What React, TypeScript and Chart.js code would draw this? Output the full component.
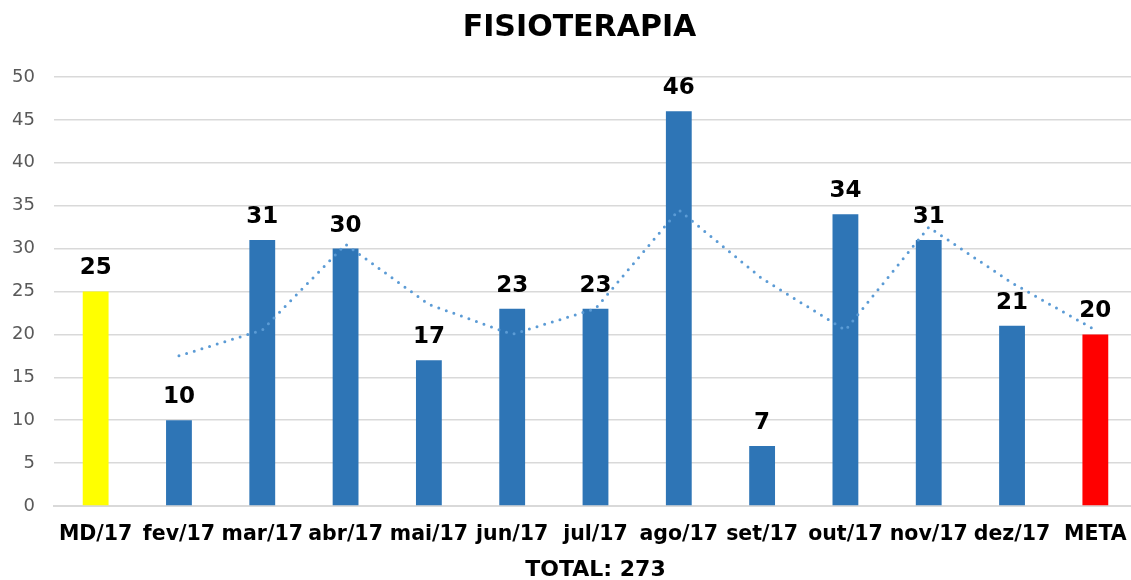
import React, { useEffect, useRef } from "react";
import { Chart, registerables } from "chart.js";

Chart.register(...registerables);

const categories = ["MD/17", "fev/17", "mar/17", "abr/17", "mai/17", "jun/17", "jul/17", "ago/17", "set/17", "out/17", "nov/17", "dez/17", "META"];
const values = [25, 10, 31, 30, 17, 23, 23, 46, 7, 34, 31, 21, 20];
const barColors = ["#FFFF00", "#2E75B6", "#2E75B6", "#2E75B6", "#2E75B6", "#2E75B6", "#2E75B6", "#2E75B6", "#2E75B6", "#2E75B6", "#2E75B6", "#2E75B6", "#FF0000"];
const trendValues = [null, 17.5, 20.5, 30.5, 23.5, 20, 23, 34.5, 26.5, 20.5, 32.5, 26, 20.5];
const yTicks = [0, 5, 10, 15, 20, 25, 30, 35, 40, 45, 50];
const chartTitle = "FISIOTERAPIA";
const xTitle = "TOTAL: 273";

const FONT = "'DejaVu Sans', Verdana, sans-serif";

const valueLabels = {
  id: "valueLabels",
  afterDatasetsDraw(chart: any) {
    const ctx = chart.ctx;
    const meta = chart.getDatasetMeta(0);
    ctx.save();
    ctx.font = `bold 23px ${FONT}`;
    ctx.fillStyle = "#000000";
    ctx.textAlign = "center";
    ctx.textBaseline = "middle";
    meta.data.forEach((bar: any, i: number) => {
      ctx.fillText(String(values[i]), bar.x, bar.y - 23);
    });
    ctx.restore();
  },
};

const titlePlugin = {
  id: "centeredTitle",
  afterDraw(chart: any) {
    const ctx = chart.ctx;
    ctx.save();
    ctx.font = `bold 30px ${FONT}`;
    ctx.fillStyle = "#000000";
    ctx.textAlign = "center";
    ctx.textBaseline = "middle";
    ctx.fillText(chartTitle, chart.width / 2, 28);
    ctx.restore();
  },
};

export default function App() {
  const ref = useRef<HTMLCanvasElement>(null);
  useEffect(() => {
    document.body.style.margin = "0";
    const chart = new Chart(ref.current!, {
      type: "bar",
      data: {
        labels: categories,
        datasets: [
          {
            type: "bar",
            data: values,
            backgroundColor: barColors,
            barPercentage: 0.62,
            categoryPercentage: 0.5,
            order: 2,
          } as any,
          {
            type: "line",
            data: trendValues,
            borderColor: "#5B9BD5",
            borderWidth: 3,
            borderDash: [0, 8],
            borderCapStyle: "round",
            pointRadius: 0,
            tension: 0,
            fill: false,
            order: 1,
          } as any,
        ],
      },
      options: {
        responsive: false,
        animation: false,
        layout: { padding: { left: 0, right: 22, top: 77, bottom: 0 } },
        plugins: {
          legend: { display: false },
          tooltip: { enabled: false },
          title: { display: false },
        },
        scales: {
          x: {
            grid: { display: false, drawTicks: false },
            border: { display: true, color: "#D9D9D9", width: 2 },
            afterFit: (axis: any) => {
              axis.height = 74;
            },
            ticks: {
              color: "#000000",
              font: { family: FONT, size: 20.5, weight: "bold" },
              padding: 16,
              maxRotation: 0,
              autoSkip: false,
            },
            title: {
              display: true,
              text: xTitle,
              color: "#000000",
              font: { family: FONT, size: 22, weight: "bold", lineHeight: 0.85 },
              padding: { top: 0, bottom: 0 },
            },
          },
          y: {
            min: 0,
            max: 50,
            afterBuildTicks: (axis: any) => {
              axis.ticks = yTicks.map((v) => ({ value: v }));
            },
            afterFit: (axis: any) => {
              axis.width = 54;
            },
            grid: { color: "#D9D9D9", lineWidth: 1.5, drawTicks: false },
            border: { display: false },
            ticks: {
              color: "#595959",
              font: { family: FONT, size: 18 },
              padding: 19,
            },
          },
        },
      },
      plugins: [valueLabels, titlePlugin],
    });
    return () => chart.destroy();
  }, []);
  return (
    <div style={{ width: 1131, height: 580, overflow: "hidden" }}>
      <canvas ref={ref} width={1159} height={580} style={{ display: "block" }} />
    </div>
  );
}
